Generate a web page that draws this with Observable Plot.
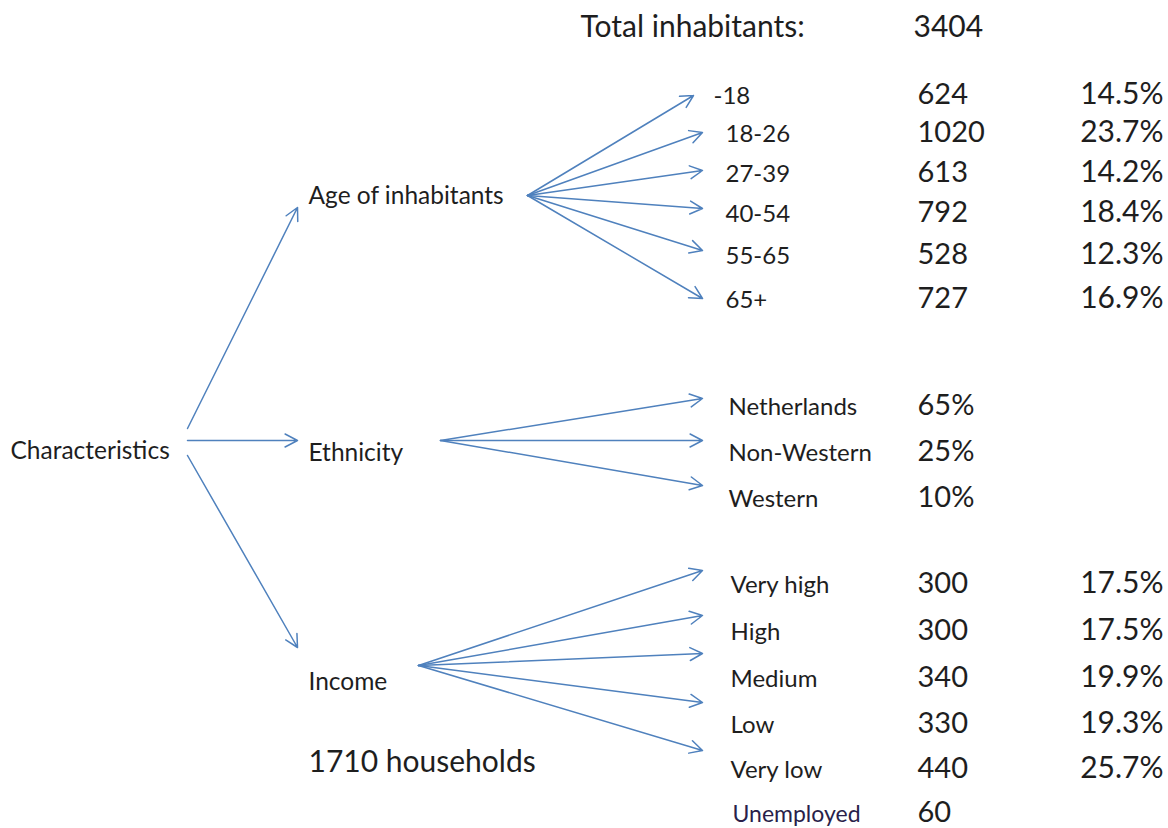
<!DOCTYPE html>
<html><head><meta charset="utf-8">
<script src="https://cdn.jsdelivr.net/npm/d3@7"></script>
<script src="https://cdn.jsdelivr.net/npm/@observablehq/plot@0.6"></script>
<style>body{margin:0;background:#fff;overflow:hidden}</style>
</head><body><div id="chart"></div>
<script>
// ---- data ----
const totalLabel = "Total inhabitants:";
const totalValue = 3404;
const rootLabel = "Characteristics";
const groups = ["Age of inhabitants", "Ethnicity", "Income"];
const ageCategories = ["-18", "18-26", "27-39", "40-54", "55-65", "65+"];
const ageCounts = [624, 1020, 613, 792, 528, 727];
const agePercents = ["14.5%", "23.7%", "14.2%", "18.4%", "12.3%", "16.9%"];
const ethnicityCategories = ["Netherlands", "Non-Western", "Western"];
const ethnicityShares = ["65%", "25%", "10%"];
const incomeCategories = ["Very high", "High", "Medium", "Low", "Very low"];
const incomeCounts = [300, 300, 340, 330, 440];
const incomePercents = ["17.5%", "17.5%", "19.9%", "19.3%", "25.7%"];
const unemployedLabel = "Unemployed";
const unemployedCount = 60;
const householdsNote = "1710 households";

// ---- layout (pixel positions in the scale's coordinate system) ----
const L = {
  root: {x: 10, y: 451, arrowX: 187, starts: [428, 440, 455]},
  groupX: 308, groupY: [196, 453, 682], groupTipX: 297, groupTips: [207, 440, 647],
  age: {ox: 527, oy: 195, tipX: [693, 702, 702, 702, 702, 702], tipY: [95, 132, 170, 208, 250, 298],
        labelX: [713, 725, 725, 725, 725, 725], rowY: [96, 134, 174, 214, 256, 300]},
  eth: {ox: 440, oy: 440, tipX: 702, tipY: [398, 440, 485], labelX: 728, rowY: [407, 453, 499]},
  inc: {ox: 418, oy: 665, tipX: 702, tipY: [570, 615, 653, 702, 750], labelX: 730, rowY: [585, 632, 679, 725, 770]},
  unemployedY: 814, valueX: 917, pctX: 1163
};

const arrows = [];
groups.forEach((g, i) => arrows.push({x1: L.root.arrowX, y1: L.root.starts[i], x2: L.groupTipX, y2: L.groupTips[i]}));
ageCategories.forEach((c, i) => arrows.push({x1: L.age.ox, y1: L.age.oy, x2: L.age.tipX[i], y2: L.age.tipY[i]}));
ethnicityCategories.forEach((c, i) => arrows.push({x1: L.eth.ox, y1: L.eth.oy, x2: L.eth.tipX, y2: L.eth.tipY[i]}));
incomeCategories.forEach((c, i) => arrows.push({x1: L.inc.ox, y1: L.inc.oy, x2: L.inc.tipX, y2: L.inc.tipY[i]}));

const mainLabels = [
  {x: L.root.x, y: L.root.y, text: rootLabel},
  ...groups.map((g, i) => ({x: L.groupX, y: L.groupY[i], text: g}))
];
const catLabels = [
  ...ageCategories.map((c, i) => ({x: L.age.labelX[i], y: L.age.rowY[i], text: c})),
  ...ethnicityCategories.map((c, i) => ({x: L.eth.labelX, y: L.eth.rowY[i], text: c})),
  ...incomeCategories.map((c, i) => ({x: L.inc.labelX, y: L.inc.rowY[i], text: c}))
];
const values = [
  ...ageCounts.map((v, i) => ({x: L.valueX, y: L.age.rowY[i] - 2, text: String(v)})),
  ...ethnicityShares.map((v, i) => ({x: L.valueX, y: L.eth.rowY[i] - 2, text: v})),
  ...incomeCounts.map((v, i) => ({x: L.valueX, y: L.inc.rowY[i] - 2, text: String(v)})),
  {x: L.valueX, y: L.unemployedY - 2, text: String(unemployedCount)}
];
const percents = [
  ...agePercents.map((v, i) => ({x: L.pctX, y: L.age.rowY[i] - 2, text: v})),
  ...incomePercents.map((v, i) => ({x: L.pctX, y: L.inc.rowY[i] - 2, text: v}))
];
const big = [
  {x: 580, y: 27, text: totalLabel},
  {x: 913, y: 27, text: String(totalValue)},
  {x: 308, y: 762, text: householdsNote}
];

const ink = "#1e1e1e";
const chart = Plot.plot({
  width: 1168, height: 828, margin: 0,
  x: {domain: [0, 1168], range: [0, 1168], axis: null},
  y: {domain: [0, 828], range: [0, 828], axis: null},
  style: {fontFamily: "Lato, 'Open Sans', sans-serif", background: "#fff"},
  marks: [
    Plot.arrow(arrows, {x1: "x1", y1: "y1", x2: "x2", y2: "y2", stroke: "#4f81bd", strokeWidth: 1.5, headLength: 14, headAngle: 55}),
    Plot.text(big, {x: "x", y: "y", text: "text", textAnchor: "start", fontSize: 30, fill: ink}),
    Plot.text(mainLabels, {x: "x", y: "y", text: "text", textAnchor: "start", fontSize: 24.5, fill: ink}),
    Plot.text(catLabels, {x: "x", y: "y", text: "text", textAnchor: "start", fontSize: 24, fill: ink}),
    Plot.text([{x: 732, y: L.unemployedY, text: unemployedLabel}], {x: "x", y: "y", text: "text", textAnchor: "start", fontSize: 23, fill: "#2a1f4a"}),
    Plot.text(values, {x: "x", y: "y", text: "text", textAnchor: "start", fontSize: 29, fill: ink}),
    Plot.text(percents, {x: "x", y: "y", text: "text", textAnchor: "end", fontSize: 30, fill: ink})
  ]
});
document.getElementById("chart").appendChild(chart);
</script>
</body></html>
